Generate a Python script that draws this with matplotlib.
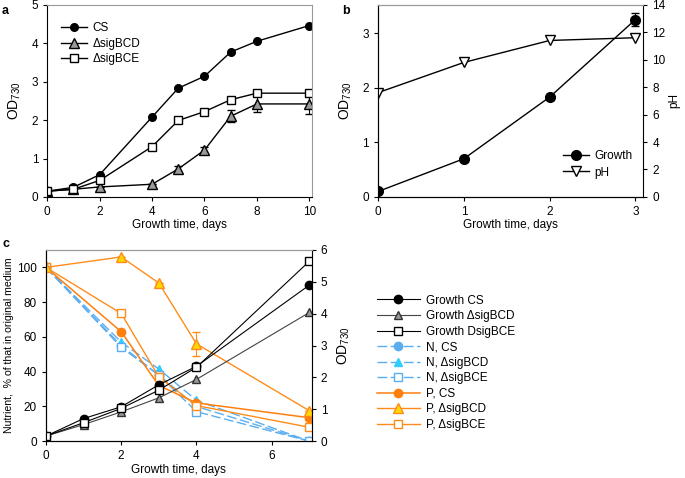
import matplotlib.pyplot as plt
import numpy as np

plt.rcParams['font.family'] = ['Liberation Sans', 'DejaVu Sans']
plt.rcParams['font.size'] = 8
plt.rcParams['mathtext.fontset'] = 'custom'
plt.rcParams['mathtext.rm'] = 'Liberation Sans'

OD = r'OD$_{\mathregular{730}}$'

# panel a: growth curves
days_a = [0, 1, 2, 4, 5, 6, 7, 8, 10]
cs_a = [0.15, 0.25, 0.58, 2.08, 2.83, 3.14, 3.77, 4.05, 4.46]
bcd_a = [0.15, 0.2, 0.26, 0.33, 0.73, 1.22, 2.1, 2.42, 2.42]
bcd_a_err = [0, 0, 0, 0, 0.07, 0.08, 0.15, 0.2, 0.25]
bce_a = [0.15, 0.2, 0.43, 1.31, 1.99, 2.22, 2.53, 2.7, 2.7]
bce_a_err = [0, 0, 0, 0, 0, 0, 0, 0.07, 0.07]

# panel b: growth and pH
days_b = [0, 1, 2, 3]
growth_b = [0.1, 0.7, 1.83, 3.25]
growth_b_err = [0, 0, 0.06, 0.12]
ph_b = [7.6, 9.8, 11.4, 11.6]

# panel c: nutrients (%) and growth (OD)
days_c = [0, 1, 2, 3, 4, 7]
days_n = [0, 2, 3, 4, 7]
g_cs = [0.16, 0.71, 1.08, 1.77, 2.35, 4.9]
g_bcd = [0.16, 0.52, 0.92, 1.36, 1.94, 4.04]
g_bce = [0.16, 0.58, 1.03, 1.6, 2.32, 5.65]
n_cs = [100, 55, 38, 20, 0]
n_bcd = [100, 57, 41.5, 23.5, 0]
n_bce = [100, 54, 38, 17, 0]
p_cs = [100, 63, 32, 22, 13.5]
p_bcd = [100, 106, 91, 56, 17.5]
p_bcd_err = [0, 0, 0, 7, 0]
p_bce = [100, 73.5, 37, 20.5, 8]

fig = plt.figure(figsize=(6.85, 4.78), dpi=100)


def style(ax, gray=('top', 'right')):
    for s in gray:
        ax.spines[s].set_color('#999999')
    ax.tick_params(direction='out', length=3, width=0.8, labelsize=8.5)


# ---- a
ax = fig.add_axes([0.069, 0.588, 0.386, 0.402])
e1 = ax.errorbar(days_a, cs_a, color='black', marker='o', ms=5.5, mfc='black',
                 mec='black', lw=1)
e2 = ax.errorbar(days_a, bcd_a, yerr=bcd_a_err, color='black', marker='^',
                 ms=6.5, mfc='#999999', mec='black', lw=1, capsize=3,
                 elinewidth=0.8)
e3 = ax.errorbar(days_a, bce_a, yerr=bce_a_err, color='black', marker='s',
                 ms=6, mfc='white', mec='black', lw=1, capsize=3,
                 elinewidth=0.8)
ax.set_xlim(0, 10.09)
ax.set_ylim(0, 5)
ax.set_xticks([0, 2, 4, 6, 8, 10])
ax.set_yticks([0, 1, 2, 3, 4, 5])
ax.set_xlabel('Growth time, days', labelpad=1, fontsize=8.5)
ax.set_ylabel(OD, labelpad=6, fontsize=10)
style(ax)
ax.legend([e1[0], e2[0], e3[0]], ['CS', 'ΔsigBCD', 'ΔsigBCE'],
          loc='upper left', bbox_to_anchor=(0.01, 0.965), frameon=False,
          handlelength=2.2, handletextpad=0.5, labelspacing=0.3, fontsize=8.5)

# ---- b
ax = fig.add_axes([0.552, 0.588, 0.387, 0.402])
ax2 = ax.twinx()
l1 = ax.errorbar(days_b, growth_b, yerr=growth_b_err, color='black', marker='o',
                 ms=7, mfc='black', lw=1, capsize=3, elinewidth=0.8)
l2, = ax2.plot(days_b, ph_b, color='black', marker='v', ms=7, mfc='white',
               mec='black', lw=1)
ax.set_xlim(0, 3.09)
ax.set_ylim(0, 3.52)
ax2.set_ylim(0, 14)
ax.set_xticks([0, 1, 2, 3])
ax.set_yticks([0, 1, 2, 3])
ax2.set_yticks(range(0, 15, 2))
ax.set_xlabel('Growth time, days', labelpad=1, fontsize=8.5)
ax.set_ylabel(OD, labelpad=6, fontsize=10)
ax2.set_ylabel('pH', labelpad=2, fontsize=8.5)
style(ax, gray=('top',))
style(ax2, gray=('top',))
ax.spines['right'].set_visible(False)
ax2.legend([l1[0], l2], ['Growth', 'pH'], loc='lower right',
           bbox_to_anchor=(1.0, 0.04), frameon=False, handlelength=2.2,
           handletextpad=0.5, labelspacing=0.4, fontsize=8.5)

# ---- c
ax = fig.add_axes([0.067, 0.077, 0.388, 0.4])
ax2 = ax.twinx()
nblue = '#5aaef0'
dash = (0, (7, 2.5))
h = []
h.append(ax2.plot(days_c, g_cs, color='black', marker='o', ms=6, mfc='black',
                  lw=0.8)[0])
h.append(ax2.plot(days_c, g_bcd, color='#444444', marker='^', ms=6,
                  mfc='#999999', mec='#333333', lw=0.8)[0])
h.append(ax2.plot(days_c, g_bce, color='black', marker='s', ms=6, mfc='white',
                  mec='black', lw=0.8)[0])
h.append(ax.plot(days_n, n_cs, color=nblue, ls=dash, marker='o', ms=6,
                 mfc=nblue, mec=nblue, lw=1)[0])
h.append(ax.plot(days_n, n_bcd, color=nblue, ls=dash, marker='^', ms=6,
                 mfc='#33ccff', mec='#33ccff', lw=1)[0])
h.append(ax.plot(days_n, n_bce, color=nblue, ls=dash, marker='s', ms=6,
                 mfc='white', mec=nblue, lw=1)[0])
h.append(ax.plot(days_n, p_cs, color='#ff7f0e', marker='o', ms=6,
                 mfc='#ff7f0e', mec='#ff7f0e', lw=1.1)[0])
eb = ax.errorbar(days_n, p_bcd, yerr=p_bcd_err, color='#ff8c1a', marker='^',
                 ms=6.5, mfc='#ffd700', mec='#ff8c1a', lw=1, capsize=3,
                 elinewidth=0.8)
h.append(eb[0])
h.append(ax.plot(days_n, p_bce, color='#ff8c1a', marker='s', ms=6,
                 mfc='white', mec='#ff8c1a', lw=1)[0])
labels_c = ['Growth CS', 'Growth ΔsigBCD', 'Growth DsigBCE',
            'N, CS', 'N, ΔsigBCD', 'N, ΔsigBCE',
            'P, CS', 'P, ΔsigBCD', 'P, ΔsigBCE']
ax.set_xlim(0, 7.06)
ax.set_ylim(0, 110)
ax2.set_ylim(0, 6)
ax.set_xticks([0, 2, 4, 6])
ax.set_yticks(range(0, 101, 20))
ax2.set_yticks(range(0, 7))
ax.set_xlabel('Growth time, days', labelpad=1, fontsize=8.5)
ax.set_ylabel('Nutrient,  % of that in original medium', labelpad=2,
              fontsize=7.6)
ax2.set_ylabel(OD, labelpad=6, fontsize=10)
style(ax)
style(ax2, gray=('top',))
fig.legend(h, labels_c, loc='upper left',
           bbox_to_anchor=(0.535, 0.406), frameon=False, handlelength=3.6,
           handletextpad=0.5, labelspacing=0.3, fontsize=8.5)

fig.text(0.003, 0.99, 'a', weight='bold', fontsize=9, va='top')
fig.text(0.5, 0.99, 'b', weight='bold', fontsize=9, va='top')
fig.text(0.003, 0.502, 'c', weight='bold', fontsize=9, va='top')

fig.savefig('out.png', dpi=100)
